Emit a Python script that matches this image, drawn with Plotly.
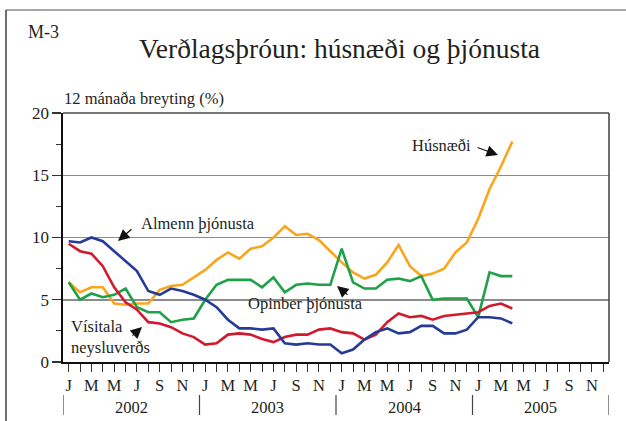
import plotly.graph_objects as go

# ---------------- data ----------------
month_letters = ["J", "F", "M", "A", "M", "J", "J", "A", "S", "O", "N", "D"]
years = ["2002", "2003", "2004", "2005"]

husnaedi = [6.4, 5.6, 6.0, 6.0, 4.7, 4.6, 4.7, 4.7, 5.8, 6.1,
            6.2, 6.8, 7.4, 8.2, 8.8, 8.3, 9.1, 9.3, 10.0, 10.9,
            10.2, 10.3, 9.8, 8.9, 8.0, 7.2, 6.7, 7.0, 8.0, 9.4,
            7.7, 6.9, 7.1, 7.5, 8.8, 9.6, 11.5, 13.9, 15.7, 17.7]

opinber = [6.4, 5.0, 5.5, 5.2, 5.4, 5.9, 4.4, 4.0, 4.0, 3.2,
           3.4, 3.5, 5.0, 6.2, 6.6, 6.6, 6.6, 6.0, 6.8, 5.6,
           6.2, 6.3, 6.2, 6.2, 9.1, 6.4, 5.9, 5.9, 6.6, 6.7,
           6.5, 6.9, 5.0, 5.1, 5.1, 5.1, 3.6, 7.2, 6.9, 6.9]

almenn = [9.7, 9.6, 10.0, 9.7, 8.9, 8.1, 7.3, 5.7, 5.4, 5.9,
          5.7, 5.4, 5.0, 4.4, 3.4, 2.7, 2.7, 2.6, 2.7, 1.5,
          1.4, 1.5, 1.4, 1.4, 0.7, 1.0, 1.8, 2.4, 2.7, 2.3,
          2.4, 2.9, 2.9, 2.3, 2.3, 2.6, 3.6, 3.6, 3.5, 3.1]

visitala = [9.5, 8.9, 8.7, 7.7, 6.0, 4.8, 4.2, 3.2, 3.1, 2.8,
            2.3, 2.0, 1.4, 1.5, 2.2, 2.3, 2.2, 1.85, 1.6, 2.0,
            2.2, 2.2, 2.6, 2.7, 2.4, 2.3, 1.8, 2.2, 3.2, 3.9,
            3.6, 3.7, 3.4, 3.7, 3.8, 3.9, 4.0, 4.5, 4.7, 4.3]

n_months = len(years) * 12
tick_vals = list(range(n_months))
tick_text = [month_letters[i % 12] if i % 2 == 0 else "" for i in tick_vals]

# ---------------- layout helpers ----------------
W, H = 626, 421
L, R, T, B = 63, 17, 113, 59
PW, PH = W - L - R, H - T - B


def px(x):
    return (x - L) / PW


def py(y):
    return (H - B - y) / PH


FONT = "Liberation Serif, Times New Roman, serif"
TXT = "#231f20"

fig = go.Figure()

series = [
    ("Húsnæði", husnaedi, "#F9A61C"),
    ("Opinber þjónusta", opinber, "#1FA049"),
    ("Vísitala neysluverðs", visitala, "#D2192D"),
    ("Almenn þjónusta", almenn, "#263A96"),
]
for name, vals, col in series:
    fig.add_trace(go.Scatter(
        x=list(range(len(vals))), y=vals, mode="lines", name=name,
        line=dict(color=col, width=2.6), showlegend=False, hoverinfo="skip"))

shapes = []
# white boxes breaking gridlines behind labels
shapes.append(dict(type="rect", xref="paper", yref="paper", layer="between",
                   x0=px(107), x1=px(262), y0=py(246), y1=py(230),
                   fillcolor="white", line=dict(width=0)))
shapes.append(dict(type="rect", xref="paper", yref="paper", layer="between",
                   x0=px(232), x1=px(382), y0=py(308), y1=py(292),
                   fillcolor="white", line=dict(width=0)))
# plot frame top & right
shapes.append(dict(type="line", xref="paper", yref="paper", x0=0, x1=1, y0=1, y1=1,
                   line=dict(color="#4a4a4a", width=1.6)))
shapes.append(dict(type="line", xref="paper", yref="paper", x0=1, x1=1, y0=0, y1=1,
                   line=dict(color="#4a4a4a", width=1.6)))
# outer border
shapes.append(dict(type="line", xref="paper", yref="paper", x0=px(6), x1=px(640),
                   y0=py(10), y1=py(10), line=dict(color="#8a8a8a", width=1.6)))
shapes.append(dict(type="line", xref="paper", yref="paper", x0=px(6), x1=px(6),
                   y0=py(10), y1=py(440), line=dict(color="#333333", width=1.4)))
# year separators
for k in range(len(years) + 1):
    shapes.append(dict(type="line", xref="x", yref="paper",
                       x0=k * 12 - 0.5, x1=k * 12 - 0.5, y0=py(395), y1=py(415),
                       line=dict(color="#444444", width=1.2)))

annotations = []
# titles
annotations.append(dict(text="Verðlagsþróun: húsnæði og þjónusta", xref="paper", yref="paper",
                        x=px(339), y=py(49), xanchor="center", yanchor="middle",
                        showarrow=False, font=dict(family=FONT, size=27.5, color=TXT)))
annotations.append(dict(text="M-3", xref="paper", yref="paper",
                        x=px(26), y=py(32), xanchor="left", yanchor="middle",
                        showarrow=False, font=dict(family=FONT, size=18, color=TXT)))
annotations.append(dict(text="12 mánaða breyting (%)", xref="paper", yref="paper",
                        x=px(62), y=py(99), xanchor="left", yanchor="middle",
                        showarrow=False, font=dict(family=FONT, size=16.5, color=TXT)))
# year labels
for k, yr in enumerate(years):
    annotations.append(dict(text=yr, xref="x", yref="paper", x=k * 12 + 5.5, y=py(407),
                            xanchor="center", yanchor="middle", showarrow=False,
                            font=dict(family=FONT, size=16.5, color=TXT)))
# series labels
lab_font = dict(family=FONT, size=16.5, color=TXT)
annotations.append(dict(text="Almenn þjónusta", xref="paper", yref="paper",
                        x=px(139), y=py(223), xanchor="left", yanchor="middle",
                        showarrow=False, font=lab_font))
annotations.append(dict(text="Opinber þjónusta", xref="paper", yref="paper",
                        x=px(246), y=py(303), xanchor="left", yanchor="middle",
                        showarrow=False, font=lab_font))
annotations.append(dict(text="Vísitala<br>neysluverðs", xref="paper", yref="paper",
                        x=px(69), y=py(337), xanchor="left", yanchor="middle",
                        align="left", showarrow=False, font=lab_font))
annotations.append(dict(text="Húsnæði", xref="paper", yref="paper",
                        x=px(410), y=py(145), xanchor="left", yanchor="middle",
                        showarrow=False, font=lab_font))
# arrows (tip in paper coords, tail offset in px)
arrows = [((118, 241), (15, -13)),
          ((337, 286), (12, 10)),
          ((142, 327), (-11, 10)),
          ((498, 155), (-22, -8))]
for (tx, ty), (ax, ay) in arrows:
    annotations.append(dict(text="", xref="paper", yref="paper", x=px(tx), y=py(ty),
                            ax=ax, ay=ay, showarrow=True, arrowhead=2, arrowsize=1.9,
                            arrowwidth=1.2, arrowcolor="#111111"))

fig.update_layout(
    width=W, height=H,
    margin=dict(l=L, r=R, t=T, b=B, pad=0),
    paper_bgcolor="white", plot_bgcolor="white",
    font=dict(family=FONT, size=16, color=TXT),
    shapes=shapes, annotations=annotations,
    xaxis=dict(range=[-0.5, n_months - 0.5], tickmode="array", tickvals=tick_vals,
               ticktext=tick_text, ticks="outside", ticklen=8, tickwidth=1.1,
               tickcolor="#333333", showgrid=False, zeroline=False,
               showline=True, linecolor="#111111", linewidth=1.6,
               tickfont=dict(family=FONT, size=16.5, color=TXT), fixedrange=True),
    yaxis=dict(range=[0, 20], tickmode="array", tickvals=[0, 5, 10, 15, 20],
               ticks="outside", ticklen=9, tickwidth=1.1, tickcolor="#333333",
               minor=dict(tickvals=[2.5, 7.5, 12.5, 17.5], ticks="outside", ticklen=5,
                          tickwidth=1.1, tickcolor="#333333", showgrid=False),
               showgrid=True, gridcolor="#8c8c8c", gridwidth=1.5, zeroline=False,
               showline=True, linecolor="#111111", linewidth=1.6,
               tickfont=dict(family=FONT, size=17, color=TXT), fixedrange=True),
)

fig.write_html("out.html",
               config={"displayModeBar": False, "staticPlot": True},
               post_script="document.body.style.margin='0';document.body.style.overflow='hidden';")
